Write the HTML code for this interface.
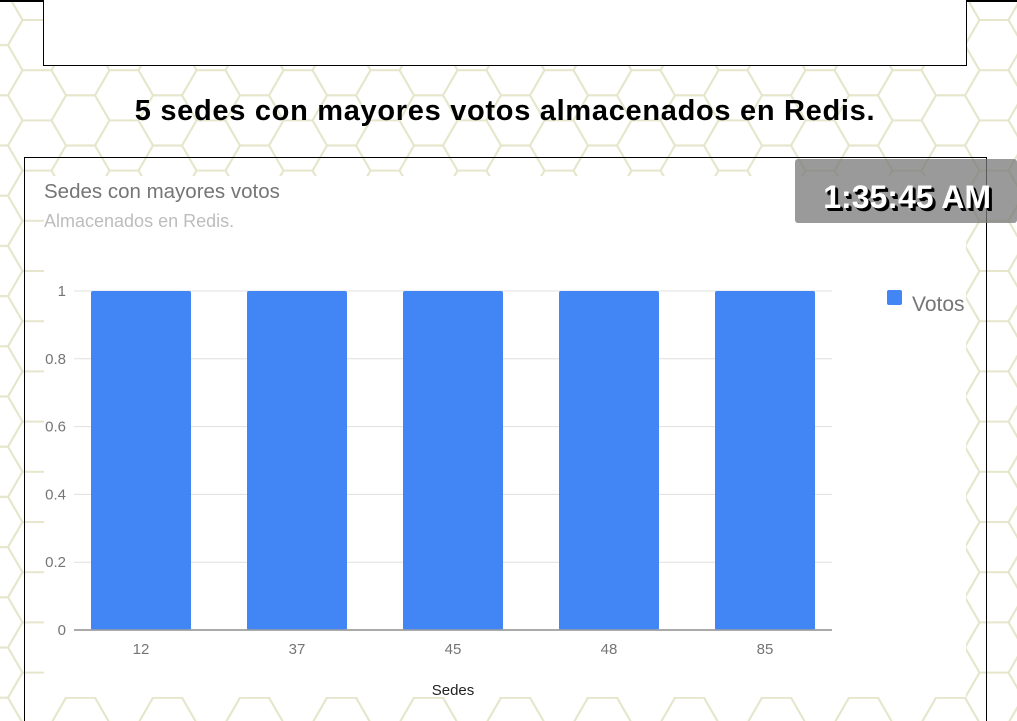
<!DOCTYPE html>
<html><head><meta charset="utf-8"><style>
html,body{margin:0;width:1017px;height:721px;overflow:hidden;background:#fff;font-family:"Liberation Sans",Roboto,sans-serif;position:relative}
.abs{position:absolute}
</style></head><body>
<svg class="abs" style="left:0;top:0" width="1017" height="721">
<defs><pattern id="hx" width="87" height="50.2" patternUnits="userSpaceOnUse" patternTransform="translate(37,20)">
<g fill="none" stroke="#e6e6cc" stroke-width="2">
<path d="M-29,25.1 L-14.5,0 L14.5,0 L29,25.1 L14.5,50.2 L-14.5,50.2 Z"/>
<path d="M58,25.1 L72.5,0 L101.5,0 L116,25.1 L101.5,50.2 L72.5,50.2 Z"/>
<path d="M14.5,0 L29,-25.1 L58,-25.1 L72.5,0 L58,25.1 L29,25.1 Z"/>
<path d="M14.5,50.2 L29,25.1 L58,25.1 L72.5,50.2 L58,75.3 L29,75.3 Z"/>
</g></pattern></defs>
<rect width="1017" height="721" fill="url(#hx)"/>
</svg>
<div class="abs" style="left:0;top:0;width:1017px;height:2px;background:#000"></div>
<div class="abs" style="left:43px;top:0;width:922px;height:65px;border:1px solid #000;border-top:none;background:#fff"></div>
<div class="abs" style="left:0;top:95px;width:1010px;text-align:center;font-weight:bold;font-size:29px;letter-spacing:0.7px;color:#000">5 sedes con mayores votos almacenados en Redis.</div>
<div class="abs" style="left:24px;top:157px;width:963px;border:1px solid #000;border-bottom:none;box-sizing:border-box;height:564px"></div>
<div class="abs" style="left:44px;top:176px;width:922px;height:521px;background:#fff"></div>
<div class="abs" style="left:44px;top:180px;font-size:20.5px;color:#757575">Sedes con mayores votos</div>
<div class="abs" style="left:44px;top:211px;font-size:18px;color:#bdbdbd">Almacenados en Redis.</div>
<svg class="abs" id="ch" style="left:0;top:0" width="1017" height="721"></svg>
<div class="abs" style="left:795px;top:159px;width:222px;height:64px;background:rgba(120,120,120,0.75);border-radius:3px"></div>
<div class="abs" style="left:795px;top:179px;width:196px;text-align:right;font-size:32px;font-weight:bold;color:#fff;text-shadow:2px 2px 0 #000,3px 3px 0 #000">1:35:45 AM</div>
<script>
const categories=["12","37","45","48","85"];
const votos=[1,1,1,1,1];
const yTicks=[0,0.2,0.4,0.6,0.8,1];
const NS="http://www.w3.org/2000/svg",svg=document.getElementById('ch');
const x0=74,x1=832,y0=630,y1=291,bandStart=63,bandEnd=843;
const step=(bandEnd-bandStart)/categories.length;
const xc=i=>bandStart+step*(i+0.5);
const ys=v=>y0-(v/1)*(y0-y1);
function mk(t,a,txt){const e=document.createElementNS(NS,t);for(const k in a)e.setAttribute(k,a[k]);if(txt!==undefined)e.textContent=txt;svg.appendChild(e);return e;}
yTicks.forEach(t=>{
const l=mk('line',{x1:x0,x2:x1,y1:ys(t),y2:ys(t),stroke:t===0?'#9e9e9e':'#e0e0e0','stroke-width':t===0?1.5:1});


const tx=mk('text',{x:66,y:ys(t)+5,'text-anchor':'end','font-size':15,fill:'#757575','font-family':'Liberation Sans, sans-serif'},String(t));


});
categories.forEach((c,i)=>{
const b=mk('rect',{x:xc(i)-50,y:ys(votos[i]),width:100,height:y0-ys(votos[i]),fill:'#4285f4',rx:2});


const t=mk('text',{x:xc(i),y:654,'text-anchor':'middle','font-size':15,fill:'#757575','font-family':'Liberation Sans, sans-serif'},c);


});
const ax=mk('line',{x1:x0,x2:x1,y1:y0,y2:y0,stroke:'#9e9e9e','stroke-width':1.5});


const xt=mk('text',{x:453,y:695,'text-anchor':'middle','font-size':15,fill:'#222','font-family':'Liberation Sans, sans-serif'},'Sedes');


const ls=mk('rect',{x:887,y:290,width:15,height:15,rx:2,fill:'#4285f4'});


const lt=mk('text',{x:912,y:311,'font-size':21,fill:'#757575','font-family':'Liberation Sans, sans-serif'},'Votos');


</script>
</body></html>
